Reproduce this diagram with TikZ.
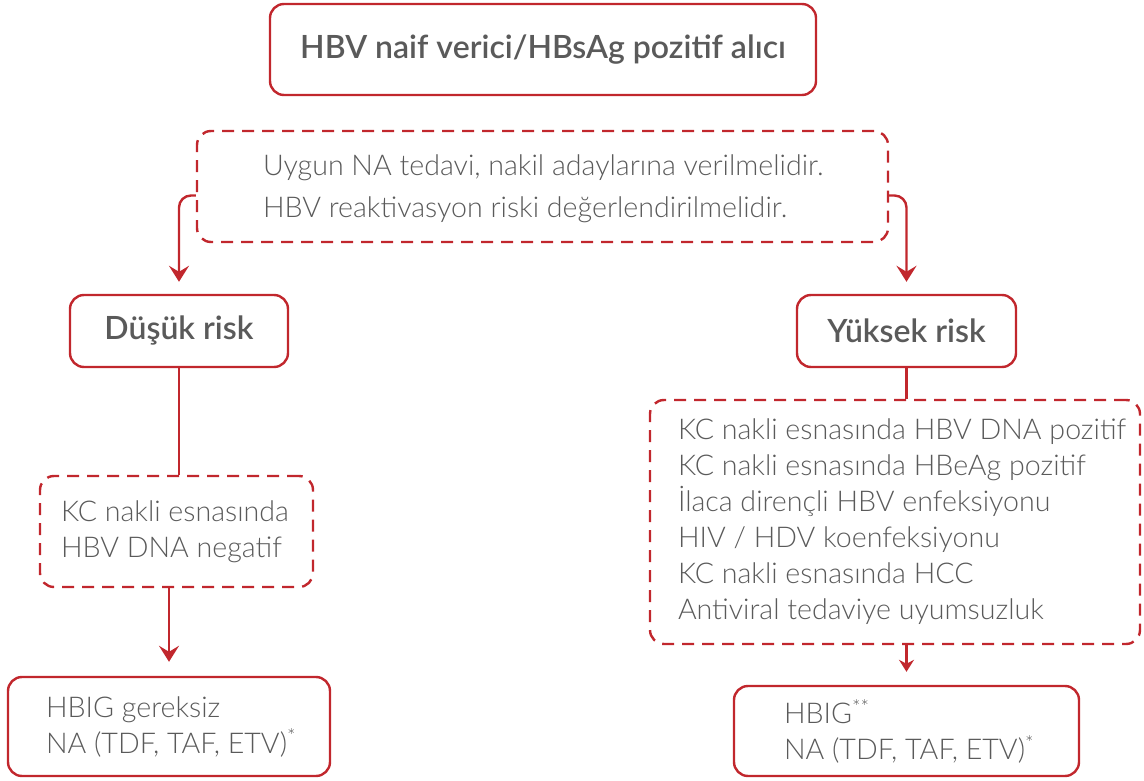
\documentclass[tikz,border=0pt]{standalone}
\usepackage{fontspec}
\setmainfont{Lato}[UprightFont=* Light, BoldFont=* Semibold]
\usetikzlibrary{arrows.meta}
\definecolor{hbred}{HTML}{C1272D}
\definecolor{hbgray}{HTML}{5A5A5A}
\tikzset{
	box/.style={draw=hbred, line width=2.4pt, rounded corners=14pt, inner sep=0pt},
	dbox/.style={box, dash pattern=on 12pt off 8pt},
	head/.style={text=hbgray, font=\fontsize{32}{38}\selectfont\bfseries},
	txt/.style={text=hbgray, align=left, anchor=west, inner sep=0pt, font=\fontsize{28.6}{36}\selectfont},
	link/.style={draw=hbred, line width=2.4pt},
	arr/.style={link, -{Stealth[length=16pt, width=20pt, inset=6pt]}, shorten >=12pt}
}
\begin{document}
\begin{tikzpicture}[x=1pt, y=-1pt, line join=round]
	\useasboundingbox (0,0) rectangle (1144,781);
	% kutular
	\node[box, head, minimum width=546pt, minimum height=91pt] (top) at (543,49.5) {HBV naif verici/HBsAg pozitif alıcı};
	\node[dbox, minimum width=691pt, minimum height=111pt] (note) at (542.5,186.5) {};
	\node[box, head, minimum width=218pt, minimum height=72pt] (dusuk) at (179,331) {Düşük risk};
	\node[box, head, minimum width=219pt, minimum height=72pt] (yuksek) at (906.5,331) {Yüksek risk};
	\node[dbox, minimum width=273pt, minimum height=111pt] (neg) at (176.5,531.5) {};
	\node[dbox, minimum width=490pt, minimum height=244pt] (high) at (895,522) {};
	\node[box, minimum width=322pt, minimum height=99pt] (hbl) at (169,726.5) {};
	\node[box, minimum width=345pt, minimum height=90pt] (hbr) at (906.5,731) {};
	% metinler
	\node[txt, font=\fontsize{28.6}{42}\selectfont] (notetxt) at ([xshift=67pt, yshift=-2pt]note.west) {Uygun NA tedavi, nakil adaylarına verilmelidir.\\HBV reaktivasyon riski değerlendirilmelidir.};
	\node[txt] (negtxt) at ([xshift=22pt]neg.west) {KC nakli esnasında\\HBV DNA negatif};
	\node[txt] (hightxt) at ([xshift=29pt]high.west) {KC nakli esnasında HBV DNA pozitif\\KC nakli esnasında HBeAg pozitif\\İlaca dirençli HBV enfeksiyonu\\HIV / HDV koenfeksiyonu\\KC nakli esnasında HCC\\Antiviral tedaviye uyumsuzluk};
	\node[txt] (hbltxt) at ([xshift=39pt]hbl.west) {HBIG gereksiz\\NA (TDF, TAF, ETV)\textsuperscript{*}};
	\node[txt] (hbrtxt) at ([xshift=51pt]hbr.west) {HBIG\textsuperscript{**}\\NA (TDF, TAF, ETV)\textsuperscript{*}};
	% oklar
	\draw[arr, rounded corners=12pt] ([yshift=-9pt]note.west) -| (dusuk.north);
	\draw[arr, rounded corners=12pt] ([yshift=-9pt]note.east) -| (yuksek.north);
	\draw[link] (dusuk.south) -- (dusuk.south |- neg.north);
	\draw[arr, shorten >=14pt] (hbl.north |- neg.south) -- (hbl.north);
	\draw[link] (yuksek.south) -- (yuksek.south |- high.north);
	\draw[link, -{Stealth[length=12pt, width=15pt, inset=4pt]}, shorten >=13pt] (hbr.north |- high.south) -- (hbr.north);
\end{tikzpicture}
\end{document}
